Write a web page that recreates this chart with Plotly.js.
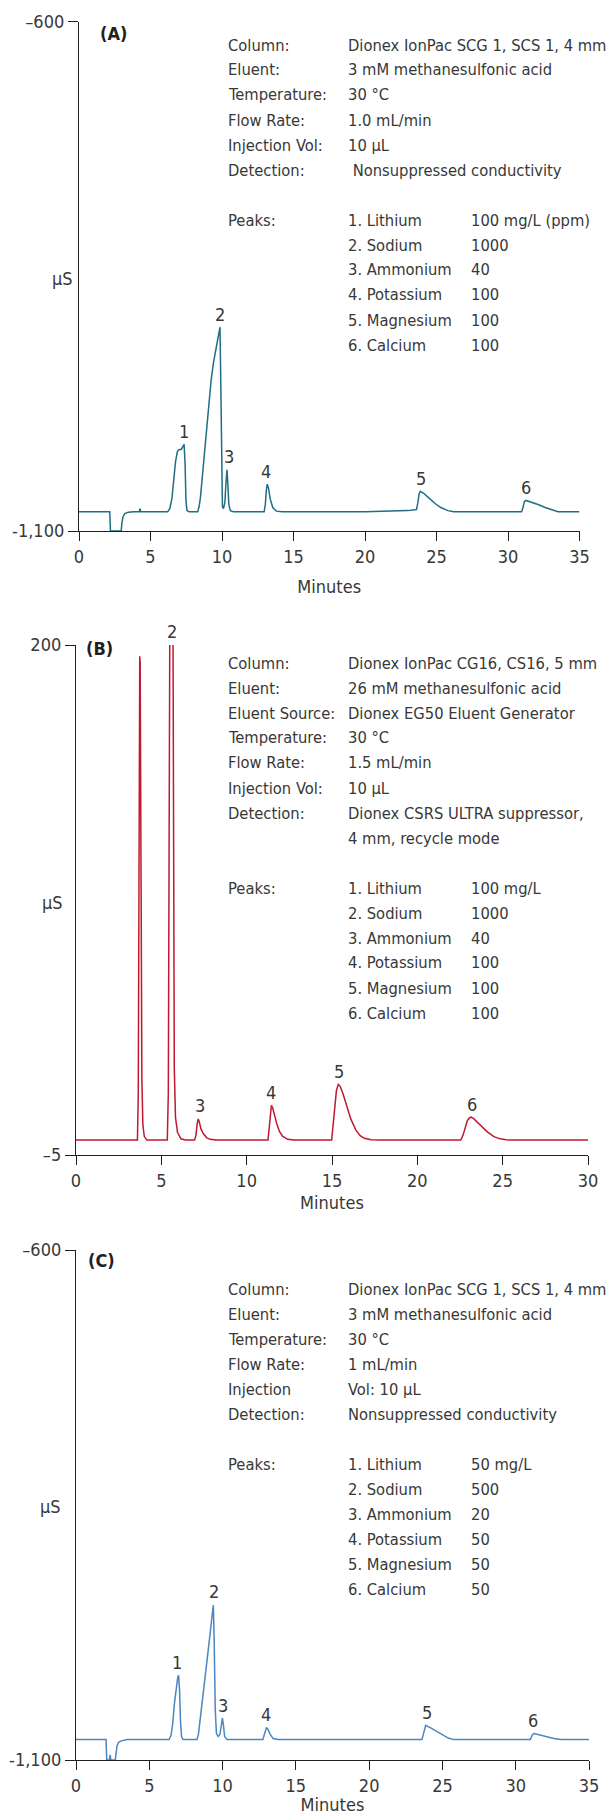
<!DOCTYPE html>
<html>
<head>
<meta charset="utf-8">
<script src="https://cdn.plot.ly/plotly-3.0.1.min.js"></script>
<style>
  html, body { margin: 0; padding: 0; background: #ffffff; }
  #chart { width: 616px; height: 1815px; }
</style>
</head>
<body>
<div id="chart"></div>
<script>
// ---------------- DATA ----------------
// Panel A: chromatogram (minutes, µS)
const chromA = [[0,-1081],[2.15,-1081],[2.2,-1100],[2.95,-1100],[3.0,-1092],[3.08,-1086],[3.2,-1083],[3.45,-1081.5],[3.8,-1081],[4.22,-1081],
  [4.27,-1078],[4.32,-1081],[6.2,-1081],[6.35,-1078],[6.5,-1068],[6.62,-1050],[6.75,-1032],[6.88,-1022],[7.0,-1020],[7.15,-1020],
  [7.25,-1018],[7.35,-1015],[7.42,-1035],[7.48,-1070],[7.55,-1080],[7.7,-1081],[8.3,-1081],[8.4,-1076],[8.5,-1066],[8.65,-1042],
  [8.8,-1016],[9.0,-985],[9.24,-952],[9.4,-935],[9.6,-918],[9.75,-908],[9.86,-900],[9.92,-960],[9.98,-1050],[10.03,-1076],
  [10.1,-1078],[10.2,-1072],[10.28,-1052],[10.35,-1040],[10.41,-1055],[10.48,-1074],[10.58,-1080],[10.8,-1081],[12.95,-1081],[13.03,-1074],
  [13.1,-1060],[13.16,-1054],[13.25,-1058],[13.38,-1069],[13.55,-1077],[13.8,-1080.5],[14.2,-1081],[20,-1081],[23.0,-1080],[23.6,-1079],
  [23.7,-1072],[23.78,-1064],[23.87,-1061],[24.1,-1063],[24.5,-1068],[24.9,-1073],[25.3,-1077],[25.8,-1080],[26.2,-1081],[30.95,-1081],
  [31.05,-1077],[31.15,-1071],[31.25,-1070],[31.6,-1071.5],[32.1,-1074],[32.6,-1077],[33.1,-1079.5],[33.5,-1081],[35,-1081]];
const peakNamesA = ['1','2','3','4','5','6'];
const peakTimesA = [7.35, 9.86, 10.49, 13.11, 23.93, 31.25];

// Panel B
const chromB = [[0,1],[3.6,1],[3.65,20],[3.69,140],[3.71,192],[3.735,195.5],[3.76,193],[3.79,150],[3.82,80],[3.86,25],
  [3.92,7],[4.0,2.5],[4.15,1],[5.35,1],[5.41,20],[5.47,120],[5.52,260],[5.66,260],[5.71,110],[5.76,30],
  [5.83,10],[5.95,4],[6.15,1.5],[6.4,1],[6.95,1],[7.03,3],[7.1,7.5],[7.16,9.5],[7.22,8.5],[7.32,5.5],
  [7.47,3.5],[7.65,2],[7.85,1.3],[8.2,1],[11.25,1],[11.32,6],[11.39,12.5],[11.45,15],[11.52,14],[11.62,11],
  [11.76,7.7],[11.92,4.5],[12.1,2.6],[12.4,1.3],[12.8,1],[14.98,1],[15.06,6],[15.15,14],[15.26,21],[15.37,23.4],
  [15.48,22.6],[15.65,19.5],[15.9,14.4],[16.1,9.5],[16.4,5],[16.65,2.8],[16.9,1.7],[17.3,1.1],[17.8,1],[22.55,1],
  [22.68,3],[22.8,6],[22.93,8.8],[23.05,9.9],[23.15,10.2],[23.3,9.6],[23.55,8],[23.8,6.4],[24.1,4.3],[24.49,2.4],
  [24.85,1.5],[25.2,1.1],[25.6,1],[30,1]];
const peakNamesB = ['2','3','4','5','6'];
const peakTimesB = [5.62, 7.24, 11.42, 15.41, 23.2];

// Panel C
const chromC = [[0,-1080],[2.05,-1080],[2.1,-1100],[2.28,-1100],[2.33,-1095],[2.38,-1100],[2.68,-1100],[2.72,-1092],[2.8,-1086],[2.92,-1082.5],
  [3.15,-1081],[3.5,-1080],[6.35,-1080],[6.48,-1076],[6.6,-1064],[6.72,-1044],[6.84,-1028],[6.94,-1019],[7.0,-1017],[7.06,-1030],
  [7.13,-1062],[7.2,-1077],[7.3,-1080],[8.25,-1080],[8.35,-1075],[8.48,-1060],[8.62,-1040],[8.8,-1018],[9.0,-995],[9.15,-976],
  [9.28,-960],[9.37,-948],[9.43,-985],[9.5,-1050],[9.58,-1074],[9.7,-1077],[9.82,-1075],[9.92,-1065],[9.99,-1059],[10.06,-1066],
  [10.14,-1077],[10.3,-1080],[12.75,-1080],[12.85,-1075],[12.94,-1069],[13.0,-1068],[13.1,-1070],[13.25,-1075],[13.45,-1079],[13.8,-1080],
  [23.6,-1080],[23.7,-1074],[23.78,-1068],[23.86,-1066],[24.2,-1068.5],[24.6,-1072],[25.0,-1075.5],[25.4,-1078.5],[25.75,-1080],[31.0,-1080],
  [31.08,-1077],[31.16,-1075],[31.26,-1074],[31.6,-1075.3],[32.1,-1077.2],[32.6,-1079],[33.1,-1080],[35,-1080]];
const peakNamesC = ['1','2','3','4','5','6'];
const peakTimesC = [6.92, 9.4, 10.05, 12.95, 23.95, 31.2];

// Axis ticks
const xTicksA = [0,5,10,15,20,25,30,35];
const xTicksB = [0,5,10,15,20,25,30];
const xTicksC = [0,5,10,15,20,25,30,35];
const yTickValsA = [-1100,-600], yTickTextA = ['-1,100','\u2013600'];
const yTickValsB = [-5,200],     yTickTextB = ['\u20135','200'];
const yTickValsC = [-1100,-600], yTickTextC = ['-1,100','\u2013600'];

// Conditions text
const condLabelsA = ['Column:','Eluent:','Temperature:','Flow Rate:','Injection Vol:','Detection:'];
const condValuesA = ['Dionex IonPac SCG 1, SCS 1, 4 mm','3 mM methanesulfonic acid','30 \u00B0C','1.0 mL/min','10 \u00B5L','\u00A0Nonsuppressed conductivity'];
const analytesA = ['1. Lithium','2. Sodium','3. Ammonium','4. Potassium','5. Magnesium','6. Calcium'];
const concA = ['100 mg/L (ppm)','1000','40','100','100','100'];

const condLabelsB = ['Column:','Eluent:','Eluent Source:','Temperature:','Flow Rate:','Injection Vol:','Detection:',''];
const condValuesB = ['Dionex IonPac CG16, CS16, 5 mm','26 mM methanesulfonic acid','Dionex EG50 Eluent Generator','30 \u00B0C','1.5 mL/min','10 \u00B5L','Dionex CSRS ULTRA suppressor,','4 mm, recycle mode'];
const analytesB = ['1. Lithium','2. Sodium','3. Ammonium','4. Potassium','5. Magnesium','6. Calcium'];
const concB = ['100 mg/L','1000','40','100','100','100'];

const condLabelsC = ['Column:','Eluent:','Temperature:','Flow Rate:','Injection','Detection:'];
const condValuesC = ['Dionex IonPac SCG 1, SCS 1, 4 mm','3 mM methanesulfonic acid','30 \u00B0C','1 mL/min','Vol: 10 \u00B5L','Nonsuppressed conductivity'];
const analytesC = ['1. Lithium','2. Sodium','3. Ammonium','4. Potassium','5. Magnesium','6. Calcium'];
const concC = ['50 mg/L','500','20','50','50','50'];

const panelLetters = ['(A)','(B)','(C)'];
const yUnit = '\u00B5S';
const xTitle = 'Minutes';

// ---------------- LAYOUT / STYLE ----------------
const W = 616, H = 1815;
const FONT = '"Liberation Sans Narrow", "DejaVu Sans Condensed", "Arial Narrow", sans-serif';
const TXT = '#383838', AX = '#231f20';
const FS = 18;      // axis / peak labels
const FS_INFO = 16.4; // conditions block
const px = v => v / W;
const py = v => 1 - v / H;

const panels = [
  {data: chromA, names: peakNamesA, times: peakTimesA, xt: xTicksA, ytv: yTickValsA, ytt: yTickTextA,
   xr: [0,35], yr: [-1100,-600], xd: [79,579.5], yd: [531,21.5], color: '#1f6e84', standoff: 14,
   labels: condLabelsA, values: condValuesA, analytes: analytesA, conc: concA,
   textTop: 45, letterX: 98, letterY: 33, unitX: 62, unitY: 278},
  {data: chromB, names: peakNamesB, times: peakTimesB, xt: xTicksB, ytv: yTickValsB, ytt: yTickTextB,
   xr: [0,30], yr: [-5,200], xd: [76,588], yd: [1155,645], color: '#c0182f', standoff: 6,
   labels: condLabelsB, values: condValuesB, analytes: analytesB, conc: concB,
   textTop: 663, letterX: 84, letterY: 648, unitX: 52, unitY: 902},
  {data: chromC, names: peakNamesC, times: peakTimesC, xt: xTicksC, ytv: yTickValsC, ytt: yTickTextC,
   xr: [0,35], yr: [-1100,-600], xd: [76,589], yd: [1760,1250], color: '#4a86c4', standoff: 4,
   labels: condLabelsC, values: condValuesC, analytes: analytesC, conc: concC,
   textTop: 1289, letterX: 86, letterY: 1260, unitX: 50, unitY: 1506}
];

const traces = [];
const annotations = [];
const layout = {
  width: W, height: H,
  margin: {l: 0, r: 0, t: 0, b: 0},
  paper_bgcolor: '#ffffff', plot_bgcolor: '#ffffff',
  showlegend: false,
  font: {family: FONT, size: FS, color: TXT},
  annotations: annotations
};

const COL_LABEL = 226, COL_VALUE = 346, COL_CONC = 469, ROW = 25;

panels.forEach((p, i) => {
  const n = i === 0 ? '' : String(i + 1);
  const xa = 'x' + n, ya = 'y' + n;
  traces.push({
    type: 'scatter', mode: 'lines',
    x: p.data.map(d => d[0]), y: p.data.map(d => d[1]),
    xaxis: xa, yaxis: ya,
    line: {color: p.color, width: 1.5},
    hoverinfo: 'skip'
  });
  layout['xaxis' + n] = {
    domain: [px(p.xd[0]), px(p.xd[1])], range: p.xr, anchor: ya,
    tickmode: 'array', tickvals: p.xt, ticktext: p.xt.map(String),
    ticks: 'outside', ticklen: 9, tickwidth: 1.3, tickcolor: AX,
    showline: true, linecolor: AX, linewidth: 1.3,
    showgrid: false, zeroline: false, automargin: false,
    tickfont: {family: FONT, size: FS, color: TXT},
    title: {text: xTitle, font: {family: FONT, size: FS, color: TXT}, standoff: p.standoff}
  };
  layout['yaxis' + n] = {
    domain: [py(p.yd[0]), py(p.yd[1])], range: p.yr, anchor: xa,
    tickmode: 'array', tickvals: p.ytv, ticktext: p.ytt,
    ticks: 'outside', ticklen: 10, tickwidth: 1.3, tickcolor: AX,
    showline: true, linecolor: AX, linewidth: 1.3,
    showgrid: false, zeroline: false, automargin: false,
    tickfont: {family: FONT, size: FS, color: TXT}
  };
  // peak number labels placed above each peak apex
  p.names.forEach((name, k) => {
    const t0 = p.times[k];
    let apex = -Infinity;
    p.data.forEach(d => { if (Math.abs(d[0] - t0) <= 0.3) apex = Math.max(apex, d[1]); });
    apex = Math.min(apex, p.yr[1]);
    annotations.push({xref: xa, yref: ya, x: t0, y: apex, text: name, showarrow: false,
      xanchor: 'center', yanchor: 'middle', yshift: 13, font: {family: FONT, size: FS, color: TXT}});
  });
  // panel letter
  annotations.push({xref: 'paper', yref: 'paper', x: px(p.letterX), y: py(p.letterY), text: '<b>' + panelLetters[i] + '</b>',
    showarrow: false, xanchor: 'left', yanchor: 'middle', font: {family: FONT, size: FS, color: '#231f20'}});
  // y unit
  annotations.push({xref: 'paper', yref: 'paper', x: px(p.unitX), y: py(p.unitY), text: yUnit,
    showarrow: false, xanchor: 'center', yanchor: 'middle', font: {family: FONT, size: FS, color: TXT}});
  // condition rows
  const addText = (x, row, txt) => {
    if (!txt) return;
    annotations.push({xref: 'paper', yref: 'paper', x: px(x), y: py(p.textTop + ROW * row), text: txt,
      showarrow: false, xanchor: 'left', yanchor: 'middle', font: {family: FONT, size: FS_INFO, color: TXT}});
  };
  p.labels.forEach((lab, r) => { addText(COL_LABEL, r, lab); addText(COL_VALUE, r, p.values[r]); });
  const start = p.labels.length + 1;
  addText(COL_LABEL, start, 'Peaks:');
  p.analytes.forEach((a, r) => { addText(COL_VALUE, start + r, a); addText(COL_CONC, start + r, p.conc[r]); });
});

Plotly.newPlot('chart', traces, layout, {displayModeBar: false, responsive: false});
</script>
</body>
</html>
